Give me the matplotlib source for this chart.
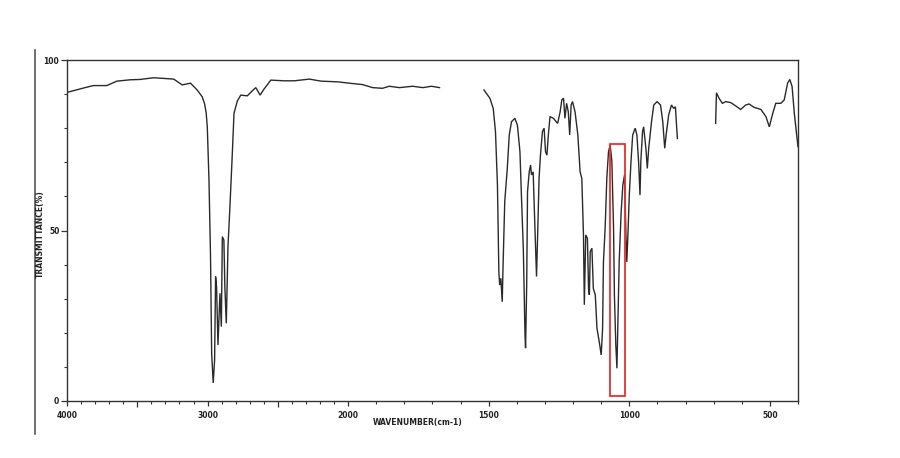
import numpy as np
import matplotlib
matplotlib.use("Agg")
import matplotlib.pyplot as plt
from matplotlib.lines import Line2D
from matplotlib.patches import Rectangle

# ---- data (wavenumber cm-1, transmittance %) ----
seg1_w = [4000, 3871, 3812, 3717, 3645, 3550, 3479, 3384, 3241, 3181, 3121, 3074, 3038, 3021,
          3010, 3002, 2990, 2979, 2971, 2960, 2950, 2943, 2936, 2926, 2912, 2902, 2895, 2884,
          2877, 2867, 2860, 2855, 2841, 2824, 2812, 2788, 2764, 2717, 2681, 2657, 2626, 2598,
          2550, 2455, 2383, 2276, 2193, 2076, 1985, 1949, 1913, 1878, 1854, 1818, 1770, 1734,
          1704, 1675]
seg1_t = [90.5, 91.9, 92.5, 92.5, 93.8, 94.2, 94.3, 94.8, 94.4, 92.7, 93.2, 91.2, 89.2, 87.1,
          84.5, 80.4, 64.8, 42.3, 14.0, 5.3, 12.0, 36.5, 33.5, 16.4, 31.6, 21.8, 48.2, 47.2,
          33.5, 22.8, 35.5, 45.2, 57.0, 72.6, 84.4, 88.0, 89.7, 89.5, 91.0, 91.9, 89.7, 91.5,
          94.1, 93.9, 93.9, 94.4, 93.8, 93.6, 93.1, 92.8, 91.9, 91.7, 92.3, 91.9, 92.3, 91.9,
          92.3, 91.9]

seg2_w = [1517, 1496, 1484, 1476, 1469, 1464, 1461, 1457, 1452, 1449, 1443, 1434, 1427, 1419,
          1407, 1398, 1389, 1383, 1377, 1371, 1369, 1365, 1362, 1356, 1351, 1348, 1342, 1336,
          1330, 1326, 1321, 1316, 1309, 1303, 1298, 1293, 1288, 1282, 1270, 1255, 1246, 1240,
          1234, 1229, 1223, 1217, 1212, 1207, 1202, 1193, 1183, 1175, 1169, 1163, 1160, 1155,
          1149, 1145, 1142, 1139, 1133, 1128, 1121, 1115, 1107, 1100, 1095, 1092, 1086, 1080,
          1074, 1068, 1062, 1056, 1053, 1048, 1044, 1041, 1036, 1029, 1023, 1017, 1012, 1009,
          1005, 1000, 994, 988, 979, 973, 967, 962, 959, 953, 949, 946, 941, 936, 931, 921,
          913, 901, 889, 881, 874, 869, 860, 850, 842, 836, 832, 829]
seg2_t = [91.2, 88.8, 85.8, 79.0, 63.3, 37.9, 34.0, 36.0, 29.1, 39.9, 58.5, 68.2, 78.0, 81.9,
          82.9, 80.9, 73.1, 58.5, 44.8, 19.4, 15.5, 34.0, 61.4, 67.2, 69.2, 66.3, 67.2, 51.6,
          36.5, 48.7, 65.3, 72.1, 79.0, 80.0, 73.1, 72.1, 78.0, 83.4, 82.9, 81.4, 84.8, 88.3,
          88.8, 82.9, 87.3, 84.8, 78.0, 86.8, 87.8, 84.8, 78.0, 67.2, 65.3, 48.7, 28.2, 48.7,
          47.7, 33.0, 31.1, 43.8, 44.8, 33.0, 31.1, 21.3, 17.4, 13.5, 21.3, 40.8, 50.6, 65.3,
          73.1, 75.1, 70.2, 50.6, 31.1, 16.4, 9.6, 21.3, 40.8, 55.5, 63.3, 66.3, 48.7, 40.8,
          48.7, 60.4, 70.2, 78.0, 80.0, 78.0, 70.2, 60.4, 70.2, 79.0, 80.4, 78.0, 74.1, 68.2,
          74.1, 81.9, 86.8, 87.8, 86.8, 81.9, 74.1, 78.0, 83.9, 86.8, 85.8, 86.3, 80.9, 77.0]

seg3_w = [693, 690, 681, 669, 657, 639, 621, 604, 586, 574, 556, 532, 514, 502, 490, 479,
          461, 449, 437, 429, 421, 413, 404, 400]
seg3_t = [81.4, 90.4, 88.8, 87.3, 87.8, 87.5, 86.5, 85.5, 86.8, 87.1, 86.1, 85.5, 83.4, 80.4,
          84.3, 87.3, 87.3, 88.3, 93.2, 94.3, 92.2, 84.3, 77.5, 74.6]

# highlighted band (red box)
box_w = (1070, 1015)
box_t = (1.5, 75.5)

major_x = [4000, 3000, 2000, 1500, 1000, 500]
major_x_labels = ["4000", "3000", "2000", "1500", "1000", "500"]
mid_x = [3500, 2500]
y_major = [0, 50, 100]
y_labels = ["0", "50", "100"]


def fwd(w):
    w = np.asarray(w, dtype=float)
    return np.where(w >= 2000, (w - 2000) / 1000.0, (w - 2000) / 500.0)


def inv(u):
    u = np.asarray(u, dtype=float)
    return np.where(u >= 0, 2000 + 1000.0 * u, 2000 + 500.0 * u)


W, H = 900, 458
fig = plt.figure(figsize=(W / 100, H / 100), dpi=100)
ax = fig.add_axes([67 / W, 1 - 401 / H, (798 - 67) / W, (401 - 60) / H])
ax.set_xscale('function', functions=(fwd, inv))
ax.set_xlim(4000, 400)
ax.set_ylim(0, 100)

lc = '#2a2a2a'
for sw, st in [(seg1_w, seg1_t), (seg2_w, seg2_t), (seg3_w, seg3_t)]:
    ax.plot(sw, st, color=lc, lw=1.0, solid_joinstyle='miter')

ax.add_patch(Rectangle((box_w[0], box_t[0]), box_w[1] - box_w[0], box_t[1] - box_t[0],
                       fill=False, edgecolor='#e8302c', lw=1.3, zorder=5))

for s in ax.spines.values():
    s.set_color('#333333')
    s.set_linewidth(1.0)

tick_font = dict(fontsize=5.5, fontweight='bold', color='#222222')
ax.set_xticks(major_x + mid_x)
ax.set_xticklabels(major_x_labels + ["", ""], **tick_font)
minor = [v for v in range(400, 4001, 100) if v not in major_x + mid_x]
ax.set_xticks(minor, minor=True)
ax.tick_params(axis='x', which='major', direction='out', length=3.5, width=0.9,
               color='#333333', pad=4)
ax.tick_params(axis='x', which='minor', direction='out', length=2.5, width=0.8,
               color='#333333')
for t in ax.xaxis.get_major_ticks():
    if t.get_loc() in mid_x:
        t.tick1line.set_markersize(4.5)

ax.set_yticks(y_major)
ax.set_yticklabels(y_labels, **tick_font)
ax.set_yticks([v for v in range(10, 100, 10) if v != 50], minor=True)
ax.tick_params(axis='y', which='major', direction='out', length=4, width=0.9,
               color='#333333', pad=1.5)
ax.tick_params(axis='y', which='minor', direction='out', length=2, width=0.8,
               color='#333333')

fig.text(418 / W, 1 - 423 / H, "WAVENUMBER(cm-1)", ha='center', va='center',
         fontsize=5.5, fontweight='bold', color='#222222')
fig.text(40 / W, 1 - 234 / H, "TRANSMITTANCE(%)", ha='center', va='center',
         rotation=90, fontsize=5.5, fontweight='bold', color='#222222')

fig.add_artist(Line2D([35 / W, 35 / W], [1 - 50 / H, 1 - 434 / H],
                      transform=fig.transFigure, color='#555555', lw=1.2))

fig.savefig("out.png", dpi=100)
